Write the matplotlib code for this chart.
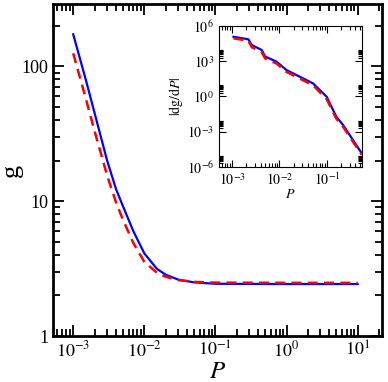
import matplotlib
matplotlib.use("Agg")
import matplotlib.pyplot as plt
import numpy as np

plt.rcParams['font.family'] = ['Liberation Serif', 'DejaVu Serif']
plt.rcParams['mathtext.fontset'] = 'stix'

# main panel: g vs P
p_main = [1e-3, 1.5e-3, 2e-3, 3e-3, 4e-3, 5e-3, 7e-3, 1e-2, 1.5e-2, 2e-2, 3e-2, 5e-2, 0.1, 1, 10]
g_blue = [173, 80, 45, 20, 12.3, 9.2, 6.0, 4.1, 3.15, 2.85, 2.62, 2.5, 2.44, 2.43, 2.43]
g_red = [125, 58, 33, 15.5, 9.8, 7.3, 4.9, 3.55, 2.95, 2.75, 2.6, 2.52, 2.49, 2.48, 2.48]

# inset: |dg/dP| vs P
p_ins = [1.07e-3, 2.2e-3, 2.6e-3, 4.2e-3, 5.0e-3, 8.7e-3, 1.4e-2, 5.1e-2, 9.9e-2, 0.135, 0.158, 0.22, 0.54]
d_blue = [1.2e5, 7.4e4, 2.4e4, 9.1e3, 2.5e3, 9.1e2, 1.8e2, 13, 0.95, 0.07, 0.019, 3.7e-3, 1.5e-5]
d_red = [9.0e4, 5.5e4, 1.6e4, 6.0e3, 1.7e3, 6.3e2, 1.25e2, 9, 0.6, 0.045, 0.013, 2.6e-3, 1.1e-5]

fig = plt.figure(figsize=(3.88, 3.82), dpi=100)
ax = fig.add_axes([0.1366, 0.1204, 0.848, 0.869])
ax.plot(p_main, g_blue, color='blue', lw=1.6)
ax.plot(p_main, g_red, color='red', lw=1.8, ls=(0, (4, 2.5)))
ax.set_xscale('log')
ax.set_yscale('log')
ax.set_xlim(5.2e-4, 22)
ax.set_ylim(1, 290)
ax.set_xticks([1e-3, 1e-2, 1e-1, 1, 10],
              [r'$10^{-3}$', r'$10^{-2}$', r'$10^{-1}$', r'$10^{0}$', r'$10^{1}$'])
ax.set_yticks([1, 10, 100], ['1', '10', '100'])
ax.tick_params(which='both', direction='in', top=True, right=True, labelsize=13, width=1.3)
ax.tick_params(which='major', length=8)
ax.tick_params(which='minor', length=5)
for s in ax.spines.values():
    s.set_linewidth(2)
ax.set_xlabel(r'$P$', fontsize=18)
ax.xaxis.set_label_coords(0.5, -0.075)
ax.set_ylabel('g', fontsize=19)
ax.yaxis.set_label_coords(-0.092, 0.5)

ins = fig.add_axes([0.5644, 0.5628, 0.3686, 0.3692])
ins.plot(p_ins, d_blue, color='blue', lw=1.6)
ins.plot(p_ins, d_red, color='red', lw=1.8, ls=(0, (4, 2.5)))
ins.set_xscale('log')
ins.set_yscale('log')
ins.set_xlim(5.3e-4, 0.55)
ins.set_ylim(1e-6, 1e6)
ins.set_xticks([1e-3, 1e-2, 1e-1], [r'$10^{-3}$', r'$10^{-2}$', r'$10^{-1}$'])
ins.set_yticks([1e-6, 1e-3, 1, 1e3, 1e6],
               [r'$10^{-6}$', r'$10^{-3}$', r'$10^{0}$', r'$10^{3}$', r'$10^{6}$'])
ymin = [k * 10.0**n for n in [-6, -3, 0, 3] for k in range(2, 10)]
ins.set_yticks(ymin, minor=True)
ins.tick_params(which='both', direction='in', top=True, right=True, labelsize=10, width=0.8)
ins.tick_params(which='major', length=5)
ins.tick_params(which='minor', length=3)
ins.set_xlabel(r'$P$', fontsize=10, labelpad=0)
ins.set_ylabel(r'$|\mathrm{dg}/\mathrm{d}P|$', fontsize=10, labelpad=1)

fig.savefig('out.png', dpi=100)
